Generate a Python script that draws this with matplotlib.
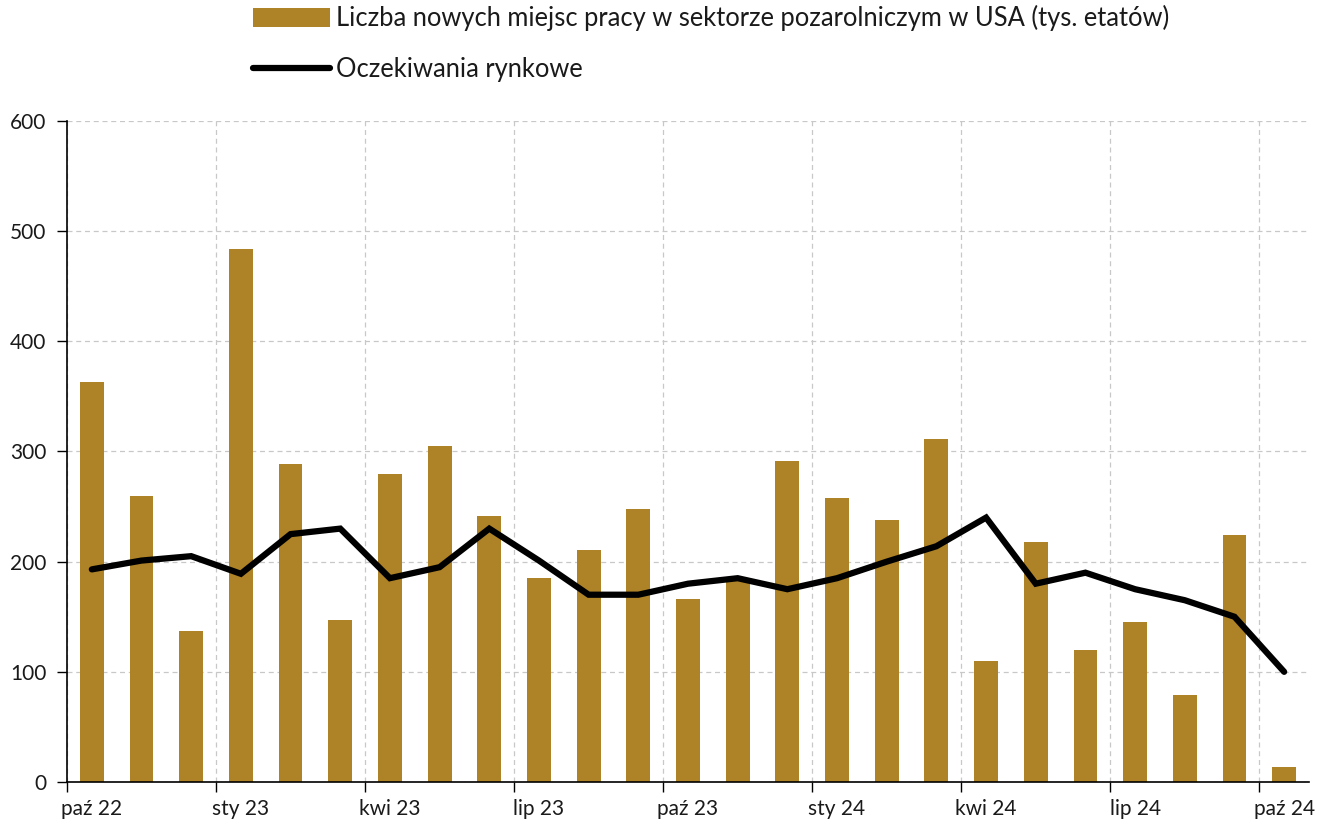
import numpy as np
import matplotlib.pyplot as plt
import matplotlib.ticker as mticker

plt.rcParams['font.family'] = ['Lato', 'DejaVu Sans']

months = ['paź 22', 'lis 22', 'gru 22', 'sty 23', 'lut 23', 'mar 23', 'kwi 23', 'maj 23',
          'cze 23', 'lip 23', 'sie 23', 'wrz 23', 'paź 23', 'lis 23', 'gru 23', 'sty 24',
          'lut 24', 'mar 24', 'kwi 24', 'maj 24', 'cze 24', 'lip 24', 'sie 24', 'wrz 24', 'paź 24']
nfp = [363, 260, 137, 484, 289, 147, 280, 305, 241, 185, 211, 248, 166,
       182, 291, 258, 238, 311, 110, 218, 120, 145, 79, 224, 14]
consensus = [193, 201, 205, 189, 225, 230, 185, 195, 230, 201, 170, 170, 180,
             185, 175, 185, 200, 214, 240, 180, 190, 175, 165, 150, 100]

bar_label = 'Liczba nowych miejsc pracy w sektorze pozarolniczym w USA (tys. etatów)'
line_label = 'Oczekiwania rynkowe'

gold = '#ae8226'
grid_c = '#c8c8c8'
txt_c = '#1a1a1a'

fig = plt.figure(figsize=(13.3, 8.31), dpi=100)
ax = fig.add_axes([67/1330, 1-782/831, (1309-67)/1330, (782-121)/831])

x = np.arange(len(months))
bars = ax.bar(x, nfp, width=0.48, color=gold, label=bar_label, zorder=2)
line, = ax.plot(x, consensus, color='black', lw=4.5, solid_joinstyle='miter',
                solid_capstyle='round', label=line_label, zorder=3)

ax.set_xlim(-0.5, len(months) - 0.5)
ax.set_ylim(0, 600)
ax.yaxis.set_major_locator(mticker.MultipleLocator(100))

# boundaries every 3 months carry ticks + grid, labels sit on the bar
ax.set_xticks(np.arange(-0.5, len(months) - 0.5, 3))
ax.set_xticklabels([])
ax.set_xticks(x[::3], minor=True)
ax.set_xticklabels([months[i] for i in x[::3]], minor=True)
ax.tick_params(axis='x', which='major', length=7, width=1, color='black')
ax.tick_params(axis='x', which='minor', length=0, pad=12, labelsize=15, labelcolor=txt_c)
ax.tick_params(axis='y', length=7, width=1, pad=8, labelsize=15, labelcolor=txt_c)

ax.grid(True, which='major', color=grid_c, ls=(0, (4, 3)), lw=0.9, zorder=0)
ax.set_axisbelow(True)
for s in ['top', 'right']:
    ax.spines[s].set_visible(False)
for s in ['left', 'bottom']:
    ax.spines[s].set_linewidth(1.2)

fig.legend(handles=[bars, line], labels=[bar_label, line_label], loc='upper left',
           bbox_to_anchor=(238/1330, 1.012), frameon=False, fontsize=18.4,
           handlelength=3.0, handleheight=0.75, handletextpad=0.25, labelspacing=1.0,
           borderpad=0.1, labelcolor=txt_c)

fig.savefig('out.png', dpi=100)
